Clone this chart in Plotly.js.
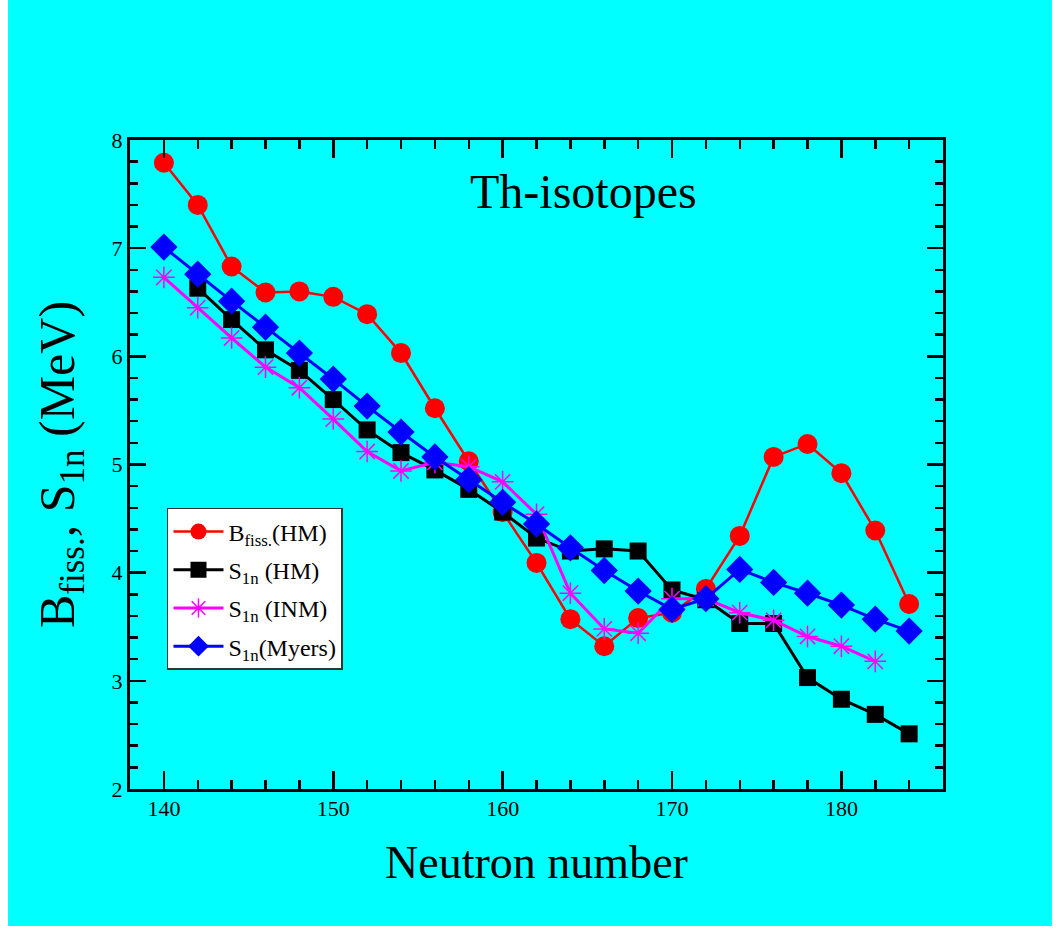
<!DOCTYPE html>
<html>
<head>
<meta charset="utf-8">
<script src="https://cdn.plot.ly/plotly-3.0.1.min.js"></script>
<style>html,body{margin:0;padding:0;background:#fff;}#chart{width:1061px;height:929px;}</style>
</head>
<body>
<div id="chart"></div>
<script>
// Data
const nFull = [140,142,144,146,148,150,152,154,156,158,160,162,164,166,168,170,172,174,176,178,180,182,184];
const bFissHM = [7.79,7.40,6.83,6.59,6.60,6.55,6.39,6.03,5.52,5.03,4.56,4.09,3.57,3.32,3.58,3.63,3.85,4.34,5.07,5.19,4.92,4.39,3.71];

const nHM = [142,144,146,148,150,152,154,156,158,160,162,164,166,168,170,172,174,176,178,180,182,184];
const s1nHM = [6.63,6.34,6.06,5.87,5.60,5.32,5.11,4.95,4.77,4.56,4.32,4.20,4.22,4.20,3.84,3.75,3.53,3.53,3.03,2.83,2.69,2.51];

const nINM = [140,142,144,146,148,150,152,154,156,158,160,162,164,166,168,170,172,174,176,178,180,182];
const s1nINM = [6.73,6.45,6.17,5.90,5.71,5.42,5.12,4.94,5.02,4.98,4.84,4.54,3.81,3.48,3.44,3.76,3.76,3.63,3.56,3.41,3.32,3.18];

const nMyers = [140,142,144,146,148,150,152,154,156,158,160,162,164,166,168,170,172,174,176,178,180,182,184];
const s1nMyers = [7.01,6.76,6.51,6.27,6.03,5.79,5.54,5.30,5.07,4.86,4.65,4.45,4.23,4.02,3.83,3.66,3.76,4.03,3.91,3.81,3.70,3.57,3.46];

const seriesNames = ['B<sub>fiss.</sub>(HM)','S<sub>1n</sub> (HM)','S<sub>1n</sub> (INM)','S<sub>1n</sub>(Myers)'];
const xTitle = 'Neutron number';
const yTitle = 'B<sub>fiss.</sub>, S<sub>1n</sub> (MeV)';
const panelLabel = 'Th-isotopes';

const serif = 'Liberation Serif, Times New Roman, serif';

const traces = [
  {x:nFull, y:bFissHM, name:seriesNames[0], legendgroup:'a', mode:'lines+markers',
   line:{color:'#ff0000', width:2.5},
   marker:{symbol:'circle', size:20, color:'#ff0000'}},
  {x:nHM, y:s1nHM, name:seriesNames[1], legendgroup:'b', mode:'lines+markers',
   line:{color:'#000000', width:3},
   marker:{symbol:'square', size:17, color:'#000000'}},
  {x:nINM, y:s1nINM, name:seriesNames[2], legendgroup:'c', mode:'lines+markers',
   line:{color:'#ff00ff', width:3},
   marker:{symbol:'asterisk-open', size:18, color:'#ff00ff', line:{color:'#ff00ff', width:1.5}}},
  {x:nMyers, y:s1nMyers, name:seriesNames[3], legendgroup:'d', mode:'lines+markers',
   line:{color:'#0000ff', width:3},
   marker:{symbol:'diamond', size:21, color:'#0000ff'}}
];

const layout = {
  width:1061, height:929,
  margin:{l:130, r:118, t:140, b:140, pad:0},
  paper_bgcolor:'#ffffff',
  plot_bgcolor:'#00ffff',
  showlegend:true,
  font:{family:serif, color:'#000'},
  shapes:[
    {type:'rect', xref:'paper', yref:'paper', x0:-0.150, x1:1.134, y0:-0.211, y1:1.22,
     fillcolor:'#00ffff', line:{width:0}, layer:'below'}
  ],
  xaxis:{
    range:[138,186], dtick:10, tick0:140,
    ticks:'inside', ticklen:18, tickwidth:2.5, tickcolor:'#000',
    minor:{dtick:2, tick0:140, ticks:'inside', ticklen:9, tickwidth:2.5, tickcolor:'#000'},
    showline:true, linewidth:3, linecolor:'#000', mirror:'ticks',
    showgrid:false, zeroline:false,
    tickfont:{family:serif, size:22, color:'#000'},
    ticklabelstandoff:-2,
    title:{text:xTitle, font:{family:serif, size:46, color:'#000'}, standoff:26}
  },
  yaxis:{
    range:[2,8], dtick:1, tick0:2,
    ticks:'inside', ticklen:16, tickwidth:2.5, tickcolor:'#000',
    minor:{dtick:0.2, tick0:2, ticks:'inside', ticklen:8, tickwidth:2.5, tickcolor:'#000'},
    showline:true, linewidth:3, linecolor:'#000', mirror:'ticks',
    showgrid:false, zeroline:false,
    tickfont:{family:serif, size:22, color:'#000'},
    ticklabelstandoff:0,
    title:{text:yTitle, font:{family:serif, size:50, color:'#000'}, standoff:22}
  },
  legend:{
    x:0.0455, y:0.433, xanchor:'left', yanchor:'top',
    bgcolor:'#ffffff', bordercolor:'#333333', borderwidth:1.5,
    font:{family:serif, size:24, color:'#000'},
    tracegroupgap:4, itemwidth:50
  },
  annotations:[
    {text:panelLabel, xref:'paper', yref:'paper', x:0.558, y:0.92, xanchor:'center', yanchor:'middle',
     showarrow:false, font:{family:serif, size:48, color:'#000'}}
  ]
};

Plotly.newPlot('chart', traces, layout, {displayModeBar:false, staticPlot:true});
</script>
</body>
</html>
